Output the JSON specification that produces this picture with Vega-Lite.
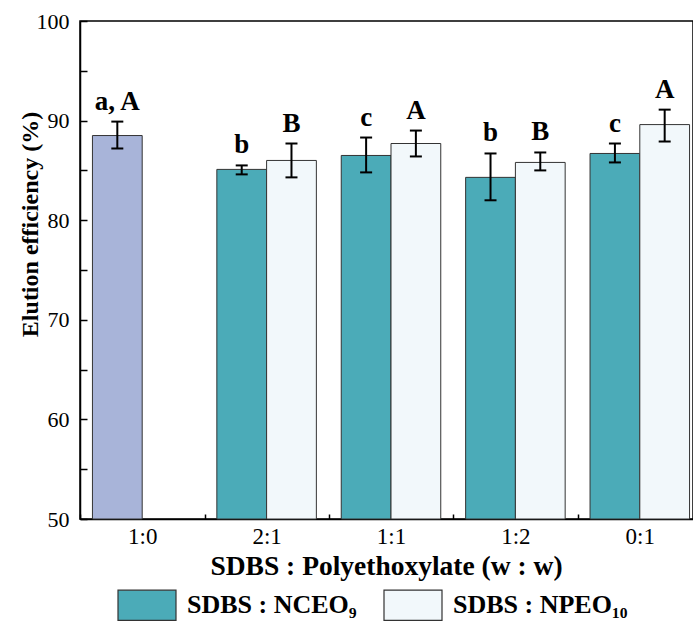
{
  "$schema": "https://vega.github.io/schema/vega-lite/v6.json",
  "width": 613,
  "height": 498,
  "autosize": "none",
  "padding": {"left": 80, "top": 21, "right": 0, "bottom": 103},
  "config": {
    "font": "Liberation Serif",
    "view": {"stroke": "black", "strokeWidth": 1.5},
    "axis": {"domainColor": "black", "domainWidth": 1.5, "tickColor": "black", "tickWidth": 1.5, "labelColor": "black", "titleColor": "black", "labelFont": "Liberation Serif", "titleFont": "Liberation Serif", "grid": false}
  },
  "data": {
    "values": [
      {"ratio": "1:0", "slot": "1", "series": "SDBS", "mean": 88.5, "lo": 87.2, "hi": 89.9, "label": "a, A"},
      {"ratio": "2:1", "slot": "1", "series": "NCEO", "mean": 85.1, "lo": 84.6, "hi": 85.5, "label": "b"},
      {"ratio": "2:1", "slot": "2", "series": "NPEO", "mean": 86.0, "lo": 84.3, "hi": 87.7, "label": "B"},
      {"ratio": "1:1", "slot": "1", "series": "NCEO", "mean": 86.5, "lo": 84.8, "hi": 88.3, "label": "c"},
      {"ratio": "1:1", "slot": "2", "series": "NPEO", "mean": 87.7, "lo": 86.4, "hi": 89.0, "label": "A"},
      {"ratio": "1:2", "slot": "1", "series": "NCEO", "mean": 84.3, "lo": 82.0, "hi": 86.7, "label": "b"},
      {"ratio": "1:2", "slot": "2", "series": "NPEO", "mean": 85.8, "lo": 85.0, "hi": 86.8, "label": "B"},
      {"ratio": "0:1", "slot": "1", "series": "NCEO", "mean": 86.7, "lo": 85.8, "hi": 87.7, "label": "c"},
      {"ratio": "0:1", "slot": "2", "series": "NPEO", "mean": 89.6, "lo": 87.9, "hi": 91.1, "label": "A"}
    ]
  },
  "encoding": {
    "x": {
      "field": "ratio", "type": "nominal",
      "sort": ["1:0", "2:1", "1:1", "1:2", "0:1"],
      "scale": {"range": [0, 622], "paddingInner": 0.2, "paddingOuter": 0.1},
      "axis": {
        "title": "SDBS : Polyethoxylate (w : w)",
        "titleFontSize": 27.5, "titleFontWeight": "bold",
        "titleX": 306, "titleY": 55, "titleAlign": "center", "titleBaseline": "alphabetic", "titleAnchor": null,
        "labelFontSize": 23, "labelAngle": 0, "labelPadding": 11,
        "tickSize": -5, "tickOffset": -62, "labelOffset": 62
      }
    },
    "xOffset": {"field": "slot", "type": "nominal", "scale": {"domain": ["1", "2"], "paddingInner": 0}}
  },
  "layer": [
    {
      "mark": {"type": "bar", "stroke": "#333333", "strokeWidth": 1},
      "encoding": {
        "y": {
          "field": "mean", "type": "quantitative",
          "scale": {"domain": [50, 100], "nice": false, "zero": false},
          "axis": {
            "title": "Elution efficiency (%)",
            "titleFontSize": 24, "titleFontWeight": "bold",
            "titleX": -50, "titleY": 203, "titleAngle": -90, "titleAlign": "center", "titleBaseline": "middle", "titleAnchor": null,
            "values": [50, 55, 60, 65, 70, 75, 80, 85, 90, 95, 100],
            "labelExpr": "datum.value % 10 === 0 ? datum.label : ''",
            "labelFontSize": 22, "labelPadding": 18,
            "tickSize": -7
          }
        },
        "y2": {"datum": 50},
        "color": {
          "field": "series", "type": "nominal",
          "scale": {"domain": ["SDBS", "NCEO", "NPEO"], "range": ["#A8B4D9", "#4BABB8", "#F2F8FB"]},
          "legend": {
            "values": ["NCEO", "NPEO"],
            "labelExpr": "datum.value === 'NCEO' ? 'SDBS : NCEO₉' : 'SDBS : NPEO₁₀'",
            "title": null,
            "orient": "none", "direction": "horizontal",
            "legendX": 37, "legendY": 554,
            "symbolType": "M-1,-0.52L1,-0.52L1,0.52L-1,0.52Z",
            "symbolSize": 3364, "symbolStrokeColor": "#333333", "symbolStrokeWidth": 1.2,
            "symbolOpacity": 1,
            "labelFontSize": 26, "labelFontWeight": "bold", "labelFont": "Liberation Serif", "labelColor": "black",
            "labelOffset": 10, "columnPadding": 24, "labelLimit": 400
          }
        }
      }
    },
    {
      "mark": {"type": "rule", "strokeWidth": 2, "color": "black"},
      "encoding": {
        "y": {"field": "lo", "type": "quantitative"},
        "y2": {"field": "hi"}
      }
    },
    {
      "mark": {"type": "tick", "orient": "horizontal", "size": 12, "thickness": 2, "color": "black", "opacity": 1},
      "encoding": {"y": {"field": "lo", "type": "quantitative"}}
    },
    {
      "mark": {"type": "tick", "orient": "horizontal", "size": 12, "thickness": 2, "color": "black", "opacity": 1},
      "encoding": {"y": {"field": "hi", "type": "quantitative"}}
    },
    {
      "mark": {"type": "text", "fontSize": 27, "fontWeight": "bold", "font": "Liberation Serif", "color": "black", "baseline": "alphabetic", "dy": -12},
      "encoding": {
        "y": {"field": "hi", "type": "quantitative"},
        "text": {"field": "label"}
      }
    }
  ]
}
